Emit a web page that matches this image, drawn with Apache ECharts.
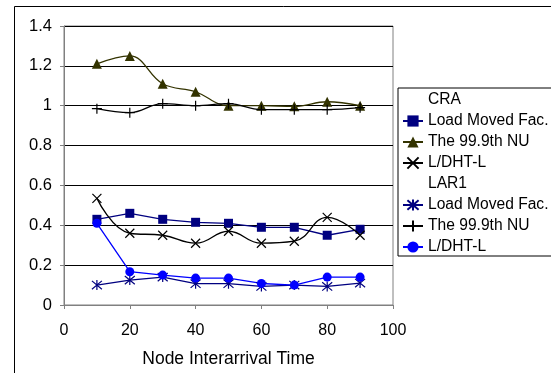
<!DOCTYPE html>
<html>
<head>
<meta charset="utf-8">
<script src="https://cdn.jsdelivr.net/npm/echarts@6/dist/echarts.min.js"></script>
<style>
html,body{margin:0;padding:0;background:#fff;}
#c{width:551px;height:373px;}
</style>
</head>
<body>
<div id="c"></div>
<script>
const xValues = [10, 20, 30, 40, 50, 60, 70, 80, 90];
const craLoadMoved = [0.43, 0.46, 0.43, 0.415, 0.41, 0.39, 0.39, 0.35, 0.38];
const cra999NU = [1.21, 1.25, 1.11, 1.07, 1.0, 1.0, 0.997, 1.02, 1.0];
const craLDHT = [0.535, 0.36, 0.35, 0.31, 0.37, 0.31, 0.32, 0.44, 0.35];
const lar1LoadMoved = [0.10, 0.125, 0.14, 0.107, 0.107, 0.093, 0.10, 0.093, 0.11];
const lar1999NU = [0.985, 0.965, 1.01, 1.0, 1.01, 0.98, 0.98, 0.98, 0.99];
const lar1LDHT = [0.41, 0.167, 0.15, 0.135, 0.135, 0.108, 0.10, 0.14, 0.14];
const yTicks = [0, 0.2, 0.4, 0.6, 0.8, 1, 1.2, 1.4];
const xTicks = [0, 20, 40, 60, 80, 100];
const legendNames = ['CRA', 'CRA|Load Moved Fac.', 'CRA|The 99.9th NU', 'CRA|L/DHT-L',
  'LAR1', 'LAR1|Load Moved Fac.', 'LAR1|The 99.9th NU', 'LAR1|L/DHT-L'];

const FONT = '"Liberation Sans", Arial, sans-serif';
const symX = 'path://M0,0L10,10M10,0L0,10';
const symAst = 'path://M0,0L10,10M10,0L0,10M5,-1L5,11';
const symPlus = 'path://M5,0L5,10M0,5L10,5';

function pairs(arr) { return xValues.map((x, i) => [x, arr[i]]); }

function lineSeries(name, data, color, symbol, size, smooth, strokeSym) {
  return {
    name: name,
    type: 'line',
    data: pairs(data),
    smooth: smooth,
    symbol: symbol,
    symbolSize: size,
    showAllSymbol: true,
    lineStyle: { color: color, width: 1.3 },
    itemStyle: strokeSym
      ? { color: color, borderColor: color, borderWidth: 1.2 }
      : { color: color, borderWidth: 0 },
    emphasis: { disabled: true },
    z: 3
  };
}
function headerSeries(name) {
  return {
    name: name, type: 'line', data: [], symbol: 'none',
    lineStyle: { opacity: 0 }, itemStyle: { opacity: 0 }
  };
}

const chart = echarts.init(document.getElementById('c'), null, { renderer: 'canvas' });
chart.setOption({
  animation: false,
  backgroundColor: '#fff',
  textStyle: { fontFamily: FONT },
  graphic: [{
    type: 'rect', shape: { x: 14.5, y: 6.5, width: 700, height: 500 },
    style: { fill: 'none', stroke: '#000', lineWidth: 1 }, silent: true, z: -10
  }],
  grid: { left: 64, right: 158, top: 26, bottom: 67, show: true, borderColor: '#808080', borderWidth: 1, backgroundColor: 'transparent' },
  legend: {
    orient: 'vertical',
    left: 398, top: 88,
    data: legendNames,
    padding: [4, 4, 1, 4],
    itemGap: 5,
    itemWidth: 20, itemHeight: 14,
    borderColor: '#000', borderWidth: 1,
    backgroundColor: '#fff',
    selectedMode: false,
    formatter: n => n.split('|').pop(),
    textStyle: { fontSize: 15.6, color: '#000', fontFamily: FONT, lineHeight: 15 }
  },
  xAxis: {
    type: 'value', min: xTicks[0], max: xTicks[xTicks.length - 1], interval: 20,
    name: 'Node Interarrival Time', nameLocation: 'middle', nameGap: 45,
    nameTextStyle: { fontSize: 17.5, color: '#000', fontFamily: FONT },
    axisLine: { lineStyle: { color: '#808080', width: 1 } },
    axisTick: { show: true, inside: false, length: 4, lineStyle: { color: '#808080' } },
    axisLabel: { fontSize: 16, color: '#000', margin: 18, fontFamily: FONT },
    splitLine: { show: false }
  },
  yAxis: {
    type: 'value', min: yTicks[0], max: yTicks[yTicks.length - 1], interval: 0.2,
    axisLine: { show: true, lineStyle: { color: '#808080', width: 1 } },
    axisTick: { show: true, inside: false, length: 4, lineStyle: { color: '#808080' } },
    axisLabel: { fontSize: 16.5, color: '#000', margin: 12, fontFamily: FONT,
      formatter: v => String(Math.round(v * 10) / 10) },
    splitLine: { show: true, lineStyle: { color: '#000', width: 1 } }
  },
  series: [
    headerSeries('CRA'),
    lineSeries('CRA|Load Moved Fac.', craLoadMoved, '#000080', 'rect', 9, false, false),
    lineSeries('CRA|The 99.9th NU', cra999NU, '#333300', 'triangle', 10, 0.4, false),
    lineSeries('CRA|L/DHT-L', craLDHT, '#000000', symX, 9, 0.45, true),
    headerSeries('LAR1'),
    lineSeries('LAR1|Load Moved Fac.', lar1LoadMoved, '#000080', symAst, 10, false, true),
    lineSeries('LAR1|The 99.9th NU', lar1999NU, '#000000', symPlus, 10, 0.4, true),
    lineSeries('LAR1|L/DHT-L', lar1LDHT, '#0000ff', 'circle', 9, false, false)
  ]
});
</script>
</body>
</html>
